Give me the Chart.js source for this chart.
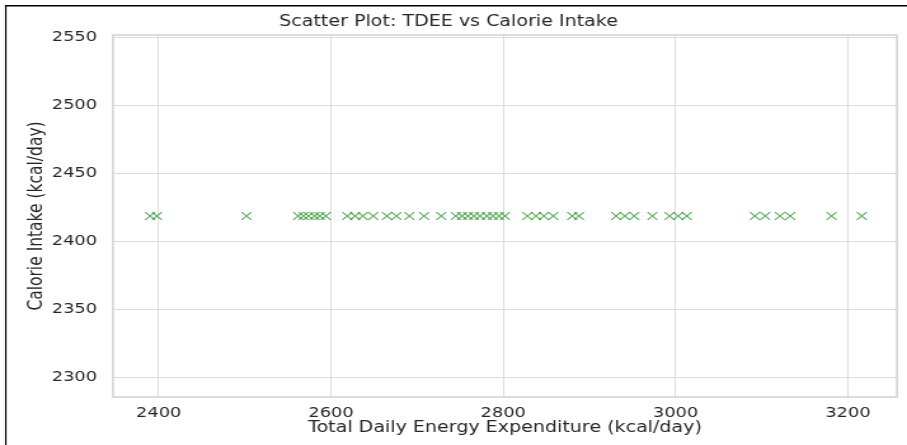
<!DOCTYPE html>
<html>
<head>
<meta charset="utf-8">
<script src="https://cdn.jsdelivr.net/npm/chart.js@4.4.1/dist/chart.umd.min.js"></script>
<style>
  body { margin: 0; background: #fff; }
  #wrap { position: relative; width: 907px; height: 445px; overflow: hidden; }
  /* the reference picture is stretched sideways, so the canvas is drawn narrower and widened by CSS */
  #scatterChart { display: block; width: 907px; height: 445px; }
</style>
</head>
<body>
<div id="wrap"><canvas id="scatterChart" width="714" height="445" style="width:907px;height:445px"></canvas></div>
<script>
// TDEE values (kcal/day)
const tdee = [
    2390, 2398, 2502,
    2562, 2568, 2574, 2581, 2587, 2594,
    2619, 2628, 2637, 2649, 2665, 2676, 2691, 2708, 2728,
    2745, 2752, 2759, 2766, 2773, 2781, 2788, 2795, 2802,
    2828, 2838, 2847, 2858, 2880, 2888,
    2931, 2941, 2952, 2973, 2993, 3003, 3013,
    3092, 3104, 3121, 3133, 3181, 3216
];
// every point sits on the same calorie intake
const calorieIntake = 2418.7;
const xTicks = [2400, 2600, 2800, 3000, 3200];
const yTicks = [2300, 2350, 2400, 2450, 2500, 2550];

const points = tdee.map(v => ({ x: v, y: calorieIntake }));

const K = 907 / 714; // horizontal stretch
const textColor = '#262626';
const gridColor = '#dcdcdc';

// frame round the plot area + the black screenshot edge
const framePlugin = {
    id: 'frame',
    beforeDraw(chart) {
        const c = chart.ctx;
        c.save();
        c.fillStyle = '#000';
        c.fillRect(5 / K, 5, 714, 1.5);
        c.fillRect(5 / K, 5, 1.5 / K, 440);
        c.restore();
    },
    afterDraw(chart) {
        const a = chart.chartArea;
        const c = chart.ctx;
        c.save();
        c.strokeStyle = '#cfcfcf';
        c.lineWidth = 1.4;
        c.strokeRect(a.left, a.top, a.right - a.left, a.bottom - a.top);
        c.restore();
    }
};

const ctx = document.getElementById('scatterChart').getContext('2d');
new Chart(ctx, {
    type: 'scatter',
    data: {
        datasets: [{
            data: points,
            pointStyle: 'crossRot',
            pointRadius: 5.5,
            pointHoverRadius: 5.5,
            borderColor: 'rgba(0, 128, 0, 0.65)',
            backgroundColor: 'rgba(0, 128, 0, 0.65)',
            pointBorderWidth: 1.1
        }]
    },
    options: {
        responsive: false,
        animation: false,
        devicePixelRatio: 1,
        layout: { padding: { left: 0, right: 10 / K, top: 0, bottom: 0 } },
        plugins: {
            legend: { display: false },
            tooltip: { enabled: false },
            title: {
                display: true,
                text: 'Scatter Plot: TDEE vs Calorie Intake',
                color: textColor,
                font: { family: 'DejaVu Sans', size: 15, weight: 'normal', lineHeight: 1.2 },
                padding: { top: 13, bottom: 4 }
            }
        },
        scales: {
            x: {
                type: 'linear',
                min: 2347,
                max: 3257,
                afterBuildTicks: s => { s.ticks = xTicks.map(v => ({ value: v })); },
                afterFit: s => { s.height = 48; },
                grid: { color: gridColor, lineWidth: 1, drawTicks: false },
                border: { display: false },
                ticks: {
                    color: textColor,
                    padding: 8,
                    maxRotation: 0,
                    font: { family: 'DejaVu Sans', size: 14 },
                    callback: v => String(v)
                },
                title: {
                    display: true,
                    text: 'Total Daily Energy Expenditure (kcal/day)',
                    color: textColor,
                    font: { family: 'DejaVu Sans', size: 15, lineHeight: 1.2 },
                    padding: { top: 0, bottom: 7.5 }
                }
            },
            y: {
                type: 'linear',
                min: 2285.5,
                max: 2552,
                afterBuildTicks: s => { s.ticks = yTicks.map(v => ({ value: v })); },
                afterFit: s => { s.width = 113 / K; },
                grid: { color: gridColor, lineWidth: 1, drawTicks: false },
                border: { display: false },
                ticks: {
                    color: textColor,
                    padding: 16 / K,
                    font: { family: 'DejaVu Sans', size: 14 },
                    callback: v => String(v)
                },
                title: {
                    display: true,
                    text: 'Calorie Intake (kcal/day)',
                    color: textColor,
                    font: { family: 'DejaVu Sans', size: 15.5, lineHeight: 1.2 },
                    padding: { top: 37 / K - 9.3, bottom: 0 }
                }
            }
        }
    },
    plugins: [framePlugin]
});
</script>
</body>
</html>
